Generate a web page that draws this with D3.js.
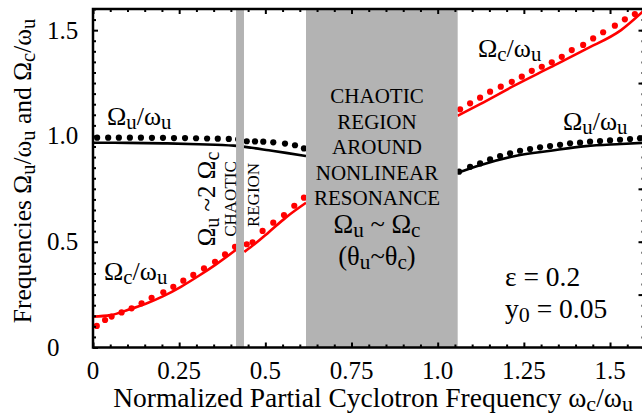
<!DOCTYPE html>
<html>
<head>
<meta charset="utf-8">
<script src="https://cdn.jsdelivr.net/npm/d3@7"></script>
<style>
  body { margin: 0; background: #fff; }
  svg { display: block; font-family: 'Liberation Serif', 'Times New Roman', serif; }
</style>
</head>
<body>
<div id="chart-area"></div>
<script>
// tick values and labels
const xMajor = [0, 0.25, 0.5, 0.75, 1.0, 1.25, 1.5];
const xTickLabels = ['0', '0.25', '0.5', '0.75', '1.0', '1.25', '1.5'];
const yMajor = [0, 0.5, 1.0, 1.5];
const yTickLabels = ['0', '0.5', '1.0', '1.5'];

// chaotic bands [from, to] in wc/wu
const bandNarrow = [0.415, 0.438];
const bandWide = [0.618, 1.058];

// Omega_u / omega_u, solid (theory)
const uSolidLeftX = [0, 0.102, 0.204, 0.306, 0.408, 0.46, 0.51, 0.56, 0.618];
const uSolidLeftY = [0.968, 0.967, 0.965, 0.961, 0.954, 0.944, 0.932, 0.92, 0.905];
const uSolidRightX = [1.058, 1.123, 1.225, 1.328, 1.43, 1.532, 1.6];
const uSolidRightY = [0.826, 0.862, 0.905, 0.93, 0.952, 0.962, 0.968];

// Omega_u / omega_u, dots (numerical)
const uDotsX = [0.012, 0.044, 0.075, 0.107, 0.139, 0.171, 0.203, 0.235, 0.267, 0.299, 0.331, 0.362, 0.394, 0.421,
  0.446, 0.470, 0.494, 0.523, 0.557, 0.586, 0.612,
  1.062, 1.094, 1.123, 1.152, 1.181, 1.210, 1.239, 1.268, 1.297, 1.326, 1.355, 1.384, 1.413, 1.442, 1.471, 1.500, 1.529, 1.558, 1.587];
const uDotsY = [0.992, 0.992, 0.992, 0.992, 0.992, 0.991, 0.991, 0.99, 0.99, 0.989, 0.988, 0.987, 0.986, 0.984,
  0.975, 0.974, 0.973, 0.97, 0.964, 0.956, 0.941,
  0.831, 0.854, 0.870, 0.889, 0.905, 0.918, 0.930, 0.938, 0.946, 0.952, 0.958, 0.965, 0.968, 0.973, 0.976, 0.979, 0.982, 0.985, 0.989];

// Omega_c / omega_u, solid (theory)
const cSolidLeftX = [0, 0.051, 0.102, 0.153, 0.204, 0.255, 0.306, 0.357, 0.415];
const cSolidLeftY = [0.146, 0.153, 0.178, 0.207, 0.243, 0.287, 0.338, 0.393, 0.462];
const cSolidMidX = [0.439, 0.47, 0.51, 0.56, 0.618];
const cSolidMidY = [0.452, 0.49, 0.545, 0.615, 0.684];
const cSolidRightX = [1.058, 1.123, 1.225, 1.328, 1.43, 1.532, 1.6];
const cSolidRightY = [1.095, 1.15, 1.24, 1.325, 1.41, 1.5, 1.595];

// Omega_c / omega_u, dots (numerical)
const cDotsX = [0.011, 0.035, 0.054, 0.083, 0.112, 0.141, 0.170, 0.204, 0.233, 0.262, 0.291, 0.322, 0.354, 0.383, 0.412,
  0.446, 0.463, 0.492, 0.523, 0.554, 0.584, 0.612,
  1.065, 1.094, 1.123, 1.152, 1.183, 1.215, 1.244, 1.273, 1.302, 1.331, 1.360, 1.389, 1.422, 1.451, 1.480, 1.514, 1.543, 1.572];
const cDotsY = [0.102, 0.130, 0.146, 0.166, 0.185, 0.209, 0.235, 0.261, 0.287, 0.316, 0.343, 0.374, 0.405, 0.440, 0.476,
  0.488, 0.497, 0.551, 0.590, 0.626, 0.670, 0.708,
  1.126, 1.154, 1.181, 1.209, 1.233, 1.256, 1.280, 1.308, 1.327, 1.348, 1.374, 1.406, 1.430, 1.461, 1.490, 1.521, 1.551, 1.576];

let width = 642;
let height = 418;
let plot = { left: 93, right: 644.5, top: 9, bottom: 347.5 };
let redColor = '#ff0000';
let bandColor = '#b3b3b3';

let xScale = d3.scaleLinear().domain([0, 1.6]).range([plot.left, plot.right]);
let yScale = d3.scaleLinear().domain([0, 1.6]).range([plot.bottom, plot.top]);

let chart = d3
  .select('#chart-area')
  .append('svg')
  .attr('width', width)
  .attr('height', height);

let zip = (xs, ys) => xs.map((x, i) => [x, ys[i]]);
let line = d3.line().x((d) => xScale(d[0])).y((d) => yScale(d[1])).curve(d3.curveMonotoneX);

//curves
[
  [zip(uSolidLeftX, uSolidLeftY), 'black'],
  [zip(uSolidRightX, uSolidRightY), 'black'],
  [zip(cSolidLeftX, cSolidLeftY), redColor],
  [zip(cSolidMidX, cSolidMidY), redColor],
  [zip(cSolidRightX, cSolidRightY), redColor],
].forEach(([pts, col]) => {
  chart.append('path').datum(pts).attr('d', line)
    .attr('fill', 'none').attr('stroke', col).attr('stroke-width', 2.6);
});

chart.append('g').selectAll('circle').data(zip(uDotsX, uDotsY)).enter().append('circle')
  .attr('cx', (d) => xScale(d[0])).attr('cy', (d) => yScale(d[1])).attr('r', 3.1).attr('fill', 'black');
chart.append('g').selectAll('circle').data(zip(cDotsX, cDotsY)).enter().append('circle')
  .attr('cx', (d) => xScale(d[0])).attr('cy', (d) => yScale(d[1])).attr('r', 3.1).attr('fill', redColor);

//chaotic bands
[bandNarrow, bandWide].forEach((b) => {
  chart.append('rect')
    .attr('x', xScale(b[0])).attr('width', xScale(b[1]) - xScale(b[0]))
    .attr('y', plot.top).attr('height', plot.bottom - plot.top)
    .attr('fill', bandColor);
});

//axes: minor ticks every 0.05, labelled major ticks
let minor = d3.range(0, 1.6001, 0.05);
let xMinor = minor.filter((v) => Math.abs(v / 0.25 - Math.round(v / 0.25)) > 1e-6);
let yMinor = minor.filter((v) => Math.abs(v / 0.5 - Math.round(v / 0.5)) > 1e-6);

function frameAxis(axisFn, scale, pos, ticks, size) {
  let g = chart.append('g').attr('transform', pos)
    .call(axisFn(scale).tickValues(ticks).tickSize(size).tickFormat(''));
  g.selectAll('path').remove();
  g.selectAll('line').attr('stroke', 'black').attr('stroke-width', 2);
  return g;
}
frameAxis(d3.axisBottom, xScale, `translate(0,${plot.bottom})`, xMinor, -3);
frameAxis(d3.axisBottom, xScale, `translate(0,${plot.bottom})`, xMajor, -5);
frameAxis(d3.axisTop, xScale, `translate(0,${plot.top})`, xMinor, -3);
frameAxis(d3.axisTop, xScale, `translate(0,${plot.top})`, xMajor, -5);
frameAxis(d3.axisLeft, yScale, `translate(${plot.left},0)`, yMinor, -3);
frameAxis(d3.axisLeft, yScale, `translate(${plot.left},0)`, yMajor, -5);
frameAxis(d3.axisRight, yScale, `translate(${plot.right},0)`, minor, -3);
frameAxis(d3.axisRight, yScale, `translate(${plot.right},0)`, [0.25, 0.5, 0.75, 1.0, 1.25, 1.5], -6);

chart.append('rect')
  .attr('x', plot.left).attr('y', plot.top)
  .attr('width', plot.right - plot.left).attr('height', plot.bottom - plot.top)
  .attr('fill', 'none').attr('stroke', 'black').attr('stroke-width', 2.5);

//tick labels
chart.append('g').selectAll('text').data(xMajor).enter().append('text')
  .attr('x', (d) => xScale(d)).attr('y', plot.bottom + 31)
  .attr('text-anchor', 'middle').attr('font-size', 25)
  .text((d, i) => xTickLabels[i]);
chart.append('g').selectAll('text').data(yMajor).enter().append('text')
  .attr('x', 47).attr('y', (d) => yScale(d) + 8.5)
  .attr('text-anchor', 'start').attr('font-size', 25)
  .text((d, i) => yTickLabels[i]);

//rich text with subscripts
function rich(x, y, parts, size, anchor, transform) {
  let t = chart.append('text').attr('font-size', size).attr('text-anchor', anchor || 'start');
  if (transform) t.attr('transform', transform);
  else t.attr('x', x).attr('y', y);
  let shift = 0;
  parts.forEach(([s, sub]) => {
    let want = sub ? size * 0.16 : 0;
    t.append('tspan').attr('dy', want - shift).attr('font-size', sub ? size * 0.8 : size).text(s);
    shift = want;
  });
  return t;
}

//axis titles
rich(0, 0, [['Normalized Partial Cyclotron Frequency ω'], ['c', 1], ['/ω'], ['u', 1]], 27.5, 'middle',
  'translate(373,407)');
rich(0, 0, [['Frequencies Ω'], ['u', 1], ['/ω'], ['u', 1], [' and Ω'], ['c', 1], ['/ω'], ['u', 1]], 25.5, 'middle',
  'translate(31,171) rotate(-90)');

//curve labels
rich(107, 125, [['Ω'], ['u', 1], ['/ω'], ['u', 1]], 26);
rich(104, 280, [['Ω'], ['c', 1], ['/ω'], ['u', 1]], 26);
rich(478, 57, [['Ω'], ['c', 1], ['/ω'], ['u', 1]], 26);
rich(563, 130, [['Ω'], ['u', 1], ['/ω'], ['u', 1]], 26);

//wide band annotation
let cx = 377;
['CHAOTIC', 'REGION', 'AROUND', 'NONLINEAR', 'RESONANCE'].forEach((s, i) => {
  chart.append('text').attr('x', cx).attr('y', 103 + i * 25.5)
    .attr('text-anchor', 'middle').attr('font-size', 21).text(s);
});
rich(cx, 233, [['Ω'], ['u', 1], [' ~ Ω'], ['c', 1]], 26.5, 'middle');
rich(cx, 265, [['(θ'], ['u', 1], ['~θ'], ['c', 1], [')']], 26.5, 'middle');

//narrow band annotation
rich(0, 0, [['Ω'], ['u', 1], [' ~2 Ω'], ['c', 1]], 25, 'middle', 'translate(215,199) rotate(-90)');
chart.append('text').attr('transform', 'translate(236,199) rotate(-90)')
  .attr('text-anchor', 'middle').attr('font-size', 17).text('CHAOTIC');
chart.append('text').attr('transform', 'translate(259,195) rotate(-90)')
  .attr('text-anchor', 'middle').attr('font-size', 17).text('REGION');

//parameters
chart.append('text').attr('x', 505).attr('y', 286).attr('font-size', 27.5).text('ε = 0.2');
rich(505, 318, [['y'], ['0', 1], [' = 0.05']], 27.5);
</script>
</body>
</html>
